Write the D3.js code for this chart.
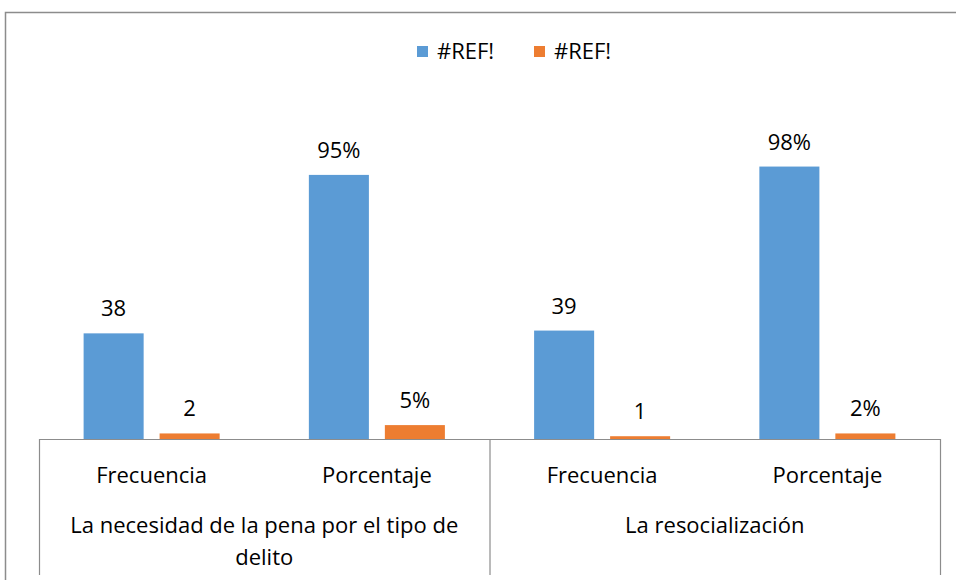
<!DOCTYPE html>
<html>
<head>
<meta charset="utf-8">
<script src="https://cdn.jsdelivr.net/npm/d3@7"></script>
<style>
  body { margin: 0; background: #fff; }
  svg text { font-family: "Open Sans", "Noto Sans", sans-serif; fill: #000; }
</style>
</head>
<body>
<svg></svg>
<script>
// data
let groups = ["La necesidad de la pena por el tipo de delito", "La resocialización"]
let subCategories = ["Frecuencia", "Porcentaje"]
let seriesNames = ["#REF!", "#REF!"]
let seriesA = [38, 95, 39, 98]
let seriesB = [2, 5, 1, 2]
let labelsA = ["38", "95%", "39", "98%"]
let labelsB = ["2", "5%", "1", "2%"]
let colors = ["#5B9BD5", "#ED7D31"]

let width = 956
let height = 580
let left = 39
let right = 940
let base = 439
let fontSize = 22

let svg = d3.select("svg").attr("width", width).attr("height", height)

// chart frame (only top + left visible in the crop)
svg.append("path")
  .attr("d", "M5.5,580 V12.5 H956")
  .attr("fill", "none")
  .attr("stroke", "#8c8c8c")
  .attr("stroke-width", 1.5)

// categories: group x sub category
let cats = []
groups.forEach((g, gi) => subCategories.forEach((s, si) => cats.push({ g: gi, s: s, i: cats.length })))

let xScale = d3.scaleBand().domain(cats.map(c => c.i)).range([left, right]).padding(0)
let inner = d3.scaleBand().domain([0, 1]).range([0, xScale.bandwidth()])
  .paddingInner(0.21).paddingOuter(0.587)
let yScale = d3.scaleLinear().domain([0, 100]).range([base, base - 278])

let series = [seriesA, seriesB]
let labels = [labelsA, labelsB]

series.forEach((vals, si) => {
  svg.append("g").selectAll("rect")
    .data(vals)
    .enter()
    .append("rect")
    .attr("x", (d, i) => xScale(i) + inner(si))
    .attr("width", inner.bandwidth())
    .attr("y", d => yScale(d))
    .attr("height", d => base - yScale(d))
    .attr("fill", colors[si])

  svg.append("g").selectAll("text")
    .data(vals)
    .enter()
    .append("text")
    .attr("x", (d, i) => xScale(i) + inner(si) + inner.bandwidth() / 2)
    .attr("y", d => yScale(d) - 17)
    .attr("text-anchor", "middle")
    .attr("font-size", fontSize)
    .text((d, i) => labels[si][i])
})

// axis lines
let axis = svg.append("g").attr("stroke", "#8c8c8c").attr("stroke-width", 1.2)
axis.append("line").attr("x1", left).attr("x2", right).attr("y1", base + 0.5).attr("y2", base + 0.5)
let groupEdges = [0, 2, 4].map(i => i < 4 ? xScale(i) : right)
groupEdges.forEach(x => {
  axis.append("line").attr("x1", x + 0.5).attr("x2", x + 0.5).attr("y1", base).attr("y2", 575)
})

// sub category labels
svg.append("g").selectAll("text")
  .data(cats)
  .enter()
  .append("text")
  .attr("x", d => xScale(d.i) + xScale.bandwidth() / 2)
  .attr("y", 483)
  .attr("text-anchor", "middle")
  .attr("font-size", fontSize)
  .text(d => d.s)

// group labels, wrapped like excel does
groups.forEach((g, gi) => {
  let x0 = xScale(gi * 2)
  let cx = x0 + xScale.bandwidth()
  let t = svg.append("text")
    .attr("x", cx)
    .attr("y", 533)
    .attr("text-anchor", "middle")
    .attr("font-size", fontSize)
  let words = g.split(" ")
  let line = []
  let tspan = t.append("tspan").attr("x", cx)
  words.forEach(w => {
    line.push(w)
    tspan.text(line.join(" "))
    if (tspan.node().getComputedTextLength() > 415 && line.length > 1) {
      line.pop()
      tspan.text(line.join(" "))
      line = [w]
      tspan = t.append("tspan").attr("x", cx).attr("dy", 32).text(w)
    }
  })
})

// legend
let legend = svg.append("g")
let legX = [417, 534]
seriesNames.forEach((n, i) => {
  legend.append("rect")
    .attr("x", legX[i]).attr("y", 46)
    .attr("width", 11).attr("height", 11)
    .attr("fill", colors[i])
  legend.append("text")
    .attr("x", legX[i] + 20).attr("y", 59)
    .attr("font-size", fontSize)
    .text(n)
})
</script>
</body>
</html>
